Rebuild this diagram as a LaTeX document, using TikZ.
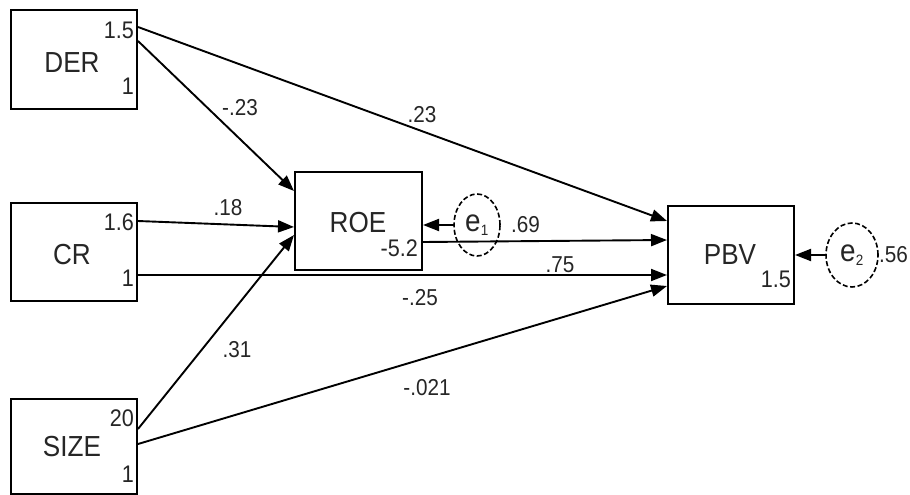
\documentclass[tikz,border=0pt]{standalone}
\usepackage{fontspec}
\setmainfont{Liberation Sans}[FakeStretch=0.9]
\usetikzlibrary{arrows.meta,shapes.geometric}
\tikzset{
  var/.style={draw, line width=2pt, minimum width=126pt, inner sep=0pt},
  vtext/.style={inner sep=0pt, font=\fontsize{29}{31}\selectfont, text=black!85},
  num/.style={inner sep=0pt, font=\fontsize{24}{26}\selectfont, text=black!85},
  lab/.style={inner sep=0pt, font=\fontsize{23}{25}\selectfont, text=black!85},
  err/.style={draw, ellipse, dash pattern=on 5pt off 2.5pt, line width=1.6pt, inner sep=0pt, font=\fontsize{31}{33}\selectfont, text=black!85},
  path/.style={draw, line width=1.9pt, -{Triangle[length=16pt,width=12pt]}},
}
\begin{document}
\begin{tikzpicture}[x=1pt,y=-1pt]
\useasboundingbox[fill=white] (0,0) rectangle (910,495);
% boxes
\node[var, minimum height=99pt] (der) at (74,59.5) {};
\node[var, minimum height=98pt] (cr) at (74,252) {};
\node[var, minimum height=95pt] (size) at (74,446.5) {};
\node[var, minimum width=127pt, minimum height=98pt] (roe) at (358.5,221) {};
\node[var, minimum height=98pt] (pbv) at (731,255) {};
% box texts
\node[vtext] (dert) at (72,63) {DER};
\node[vtext] (crt) at (72,255) {CR};
\node[vtext] (sizet) at (72,447) {SIZE};
\node[vtext] (roet) at (358,223) {ROE};
\node[vtext] (pbvt) at (730,255) {PBV};
% numbers in boxes
\node[num, anchor=east] (dera) at (134,30) {1.5};
\node[num, anchor=east] (derb) at (134,86) {1};
\node[num, anchor=east] (cra) at (134,222) {1.6};
\node[num, anchor=east] (crb) at (134,278) {1};
\node[num, anchor=east] (sizea) at (134,418) {20};
\node[num, anchor=east] (sizeb) at (134,474) {1};
\node[num, anchor=east] (roea) at (418,248) {-5.2};
\node[num, anchor=east] (pbva) at (791,279) {1.5};
% error terms
\node[err, minimum width=46pt, minimum height=62pt] (e1) at (477,225) {e\textsubscript{\fontsize{15}{16}\selectfont 1}};
\node[err, minimum width=52pt, minimum height=64pt] (e2) at (852,255) {e\textsubscript{\fontsize{15}{16}\selectfont 2}};
% paths
\draw[path] ([yshift=-18pt]der.north east) -- ([yshift=-16pt]pbv.north west);
\draw[path] ([yshift=-32pt]der.north east) -- ([yshift=-20pt]roe.north west);
\draw[path] ([yshift=-19pt]cr.north east) -- ([yshift=-56pt]roe.north west);
\draw[path] ([yshift=-31pt]size.north east) -- ([yshift=-64pt]roe.north west);
\draw[path] ([yshift=-73pt]cr.north east) -- ([yshift=-70pt]pbv.north west);
\draw[path] ([yshift=-71pt]roe.north east) -- ([yshift=-35pt]pbv.north west);
\draw[path] ([yshift=-46pt]size.north east) -- ([yshift=-81pt]pbv.north west);
\draw[path] (e1.west) -- (roe.east |- e1);
\draw[path] (e2.west) -- (pbv.east |- e2);
% path labels
\node[lab] (l1) at (240,108) {-.23};
\node[lab] (l2) at (422,115) {.23};
\node[lab] (l3) at (228,208) {.18};
\node[lab] (l4) at (237,350) {.31};
\node[lab] (l5) at (420,298) {-.25};
\node[lab] (l6) at (560,265) {.75};
\node[lab, anchor=west] (l7) at (511,225) {.69};
\node[lab] (l8) at (427,388) {-.021};
\node[lab, anchor=west] (l9) at (879,255) {.56};
\end{tikzpicture}
\end{document}
